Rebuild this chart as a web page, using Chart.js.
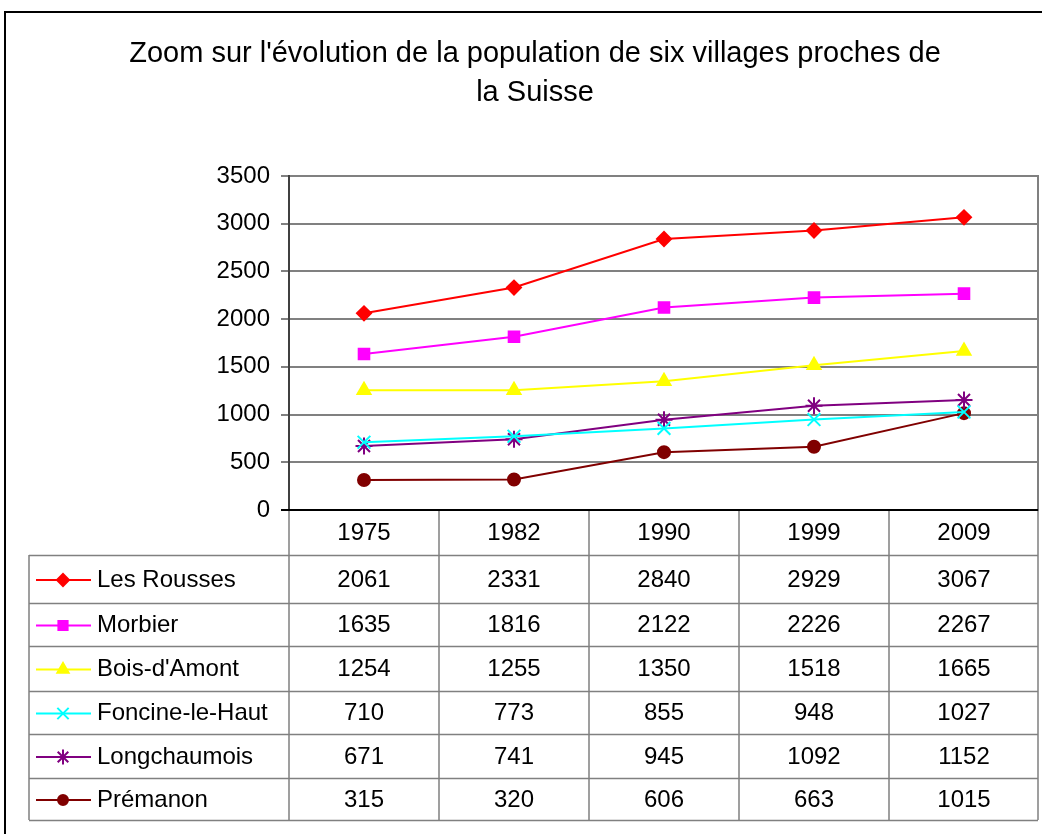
<!DOCTYPE html>
<html>
<head>
<meta charset="utf-8">
<script src="https://cdn.jsdelivr.net/npm/chart.js@4.4.0/dist/chart.umd.min.js"></script>
<style>
    body { margin: 0; background: #fff; overflow: hidden; }
    #wrap { width: 1042px; height: 834px; position: relative; }
    canvas { display: block; }
</style>
</head>
<body>
<div id="wrap"><canvas id="pop-chart"></canvas></div>
<script>
// Population data
const years = ['1975', '1982', '1990', '1999', '2009'];
const villages = ['Les Rousses', 'Morbier', "Bois-d'Amont", 'Foncine-le-Haut', 'Longchaumois', 'Prémanon'];
const lesRousses = [2061, 2331, 2840, 2929, 3067];
const morbier = [1635, 1816, 2122, 2226, 2267];
const boisDAmont = [1254, 1255, 1350, 1518, 1665];
const foncine = [710, 773, 855, 948, 1027];
const longchaumois = [671, 741, 945, 1092, 1152];
const premanon = [315, 320, 606, 663, 1015];
const yTicks = [0, 500, 1000, 1500, 2000, 2500, 3000, 3500];

const titleLines = ["Zoom sur l'évolution de la population de six villages proches de", 'la Suisse'];

const colors = ['#ff0000', '#ff00ff', '#ffff00', '#00ffff', '#800080', '#800000'];
const markers = ['rectRot', 'rect', 'triangle', 'crossRot', 'star', 'circle'];
const markerSizes = [7, 7.5, 7.5, 9, 8.5, 6];
const series = [lesRousses, morbier, boisDAmont, foncine, longchaumois, premanon];

const FONT = '"Liberation Sans", Arial, sans-serif';

// Draws title, outer frame and the data table under the plot
const tablePlugin = {
    id: 'dataTable',
    afterDraw(chart) {
        const ctx = chart.ctx;
        const area = chart.chartArea;
        const xScale = chart.scales.x;

        ctx.save();
        // outer frame
        ctx.strokeStyle = '#000';
        ctx.lineWidth = 2;
        ctx.strokeRect(5, 12, 1100, 900);

        // title
        ctx.fillStyle = '#000';
        ctx.font = '29px ' + FONT;
        ctx.textAlign = 'center';
        ctx.textBaseline = 'middle';
        ctx.fillText(titleLines[0], 535, 54);
        ctx.fillText(titleLines[1], 535, 93);

        // plot right edge
        ctx.strokeStyle = '#808080';
        ctx.lineWidth = 2;
        ctx.beginPath();
        ctx.moveTo(area.right - 1, area.top);
        ctx.lineTo(area.right - 1, area.bottom);
        ctx.stroke();

        const tableLeft = 29;
        const headerTop = area.bottom;
        const rowLines = [555, 603, 646, 691, 734, 778, 820];
        const colW = xScale.width / years.length;

        // table grid
        ctx.strokeStyle = '#808080';
        ctx.lineWidth = 1.5;
        ctx.beginPath();
        rowLines.forEach(y => {
            ctx.moveTo(tableLeft, y + 0.5);
            ctx.lineTo(area.right - 1, y + 0.5);
        });
        ctx.moveTo(tableLeft, rowLines[0]);
        ctx.lineTo(tableLeft, rowLines[rowLines.length - 1]);
        for (let j = 0; j <= years.length; j++) {
            const x = area.left + colW * j - (j === years.length ? 1 : 0);
            ctx.moveTo(x, headerTop);
            ctx.lineTo(x, rowLines[rowLines.length - 1]);
        }
        ctx.stroke();

        // bottom axis line
        ctx.strokeStyle = '#000';
        ctx.lineWidth = 2;
        ctx.beginPath();
        ctx.moveTo(area.left - 8, area.bottom);
        ctx.lineTo(area.right - 1, area.bottom);
        ctx.stroke();

        // header labels
        ctx.fillStyle = '#000';
        ctx.font = '24px ' + FONT;
        ctx.textAlign = 'center';
        years.forEach((yr, j) => {
            ctx.fillText(yr, xScale.getPixelForValue(j), (headerTop + rowLines[0]) / 2 + 1);
        });

        // rows
        villages.forEach((name, i) => {
            const cy = (rowLines[i] + rowLines[i + 1]) / 2 + 1;
            ctx.strokeStyle = colors[i];
            ctx.fillStyle = colors[i];
            ctx.lineWidth = 2;
            ctx.beginPath();
            ctx.moveTo(36, cy);
            ctx.lineTo(91, cy);
            ctx.stroke();
            Chart.helpers.drawPoint(ctx, {
                pointStyle: markers[i],
                radius: markerSizes[i] - 1,
                rotation: 0,
                borderWidth: 2
            }, 63, cy);

            ctx.fillStyle = '#000';
            ctx.textAlign = 'left';
            ctx.fillText(name, 97, cy);
            ctx.textAlign = 'center';
            series[i].forEach((v, j) => {
                ctx.fillText(String(v), xScale.getPixelForValue(j), cy);
            });
        });
        ctx.restore();
    }
};

const ctx = document.getElementById('pop-chart').getContext('2d');

new Chart(ctx, {
    type: 'line',
    data: {
        labels: years,
        datasets: villages.map((name, i) => ({
            label: name,
            data: series[i],
            borderColor: colors[i],
            backgroundColor: colors[i],
            pointStyle: markers[i],
            pointRadius: markerSizes[i],
            pointBorderWidth: 2,
            borderWidth: 2,
            tension: 0
        }))
    },
    options: {
        responsive: true,
        maintainAspectRatio: false,
        devicePixelRatio: 1,
        animation: false,
        layout: {
            autoPadding: false,
            padding: { top: 176, left: 29, right: 3, bottom: 324 }
        },
        scales: {
            x: {
                display: false,
                offset: true
            },
            y: {
                min: 0,
                max: 3500,
                afterFit: (scale) => { scale.width = 260; },
                afterBuildTicks: (scale) => {
                    scale.ticks = yTicks.map(v => ({ value: v }));
                },
                ticks: {
                    color: '#000',
                    padding: 11,
                    font: { family: FONT, size: 24 },
                    callback: (value) => String(value)
                },
                grid: {
                    color: '#808080',
                    lineWidth: 2,
                    tickLength: 8
                },
                border: {
                    color: '#404040',
                    width: 2
                }
            }
        },
        plugins: {
            legend: { display: false },
            tooltip: { enabled: false },
            title: { display: false }
        }
    },
    plugins: [tablePlugin]
});
</script>
</body>
</html>
